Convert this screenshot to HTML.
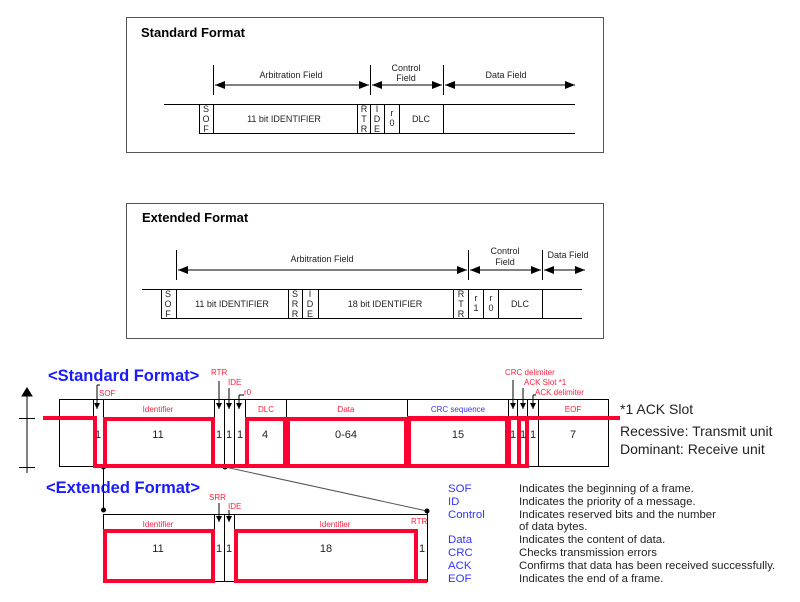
<!DOCTYPE html>
<html><head><meta charset="utf-8"><style>
body{margin:0;background:#fff;width:800px;height:602px;overflow:hidden}
svg{display:block}
text{font-family:"Liberation Sans",Arial,sans-serif}
</style></head><body>
<svg width="800" height="602" viewBox="0 0 800 602" xmlns="http://www.w3.org/2000/svg">
<defs>
<marker id="ah" markerWidth="10" markerHeight="8" refX="10" refY="4" orient="auto" markerUnits="userSpaceOnUse"><path d="M0,0 L10,4 L0,8 Z" fill="#000"/></marker>
<marker id="sa" markerWidth="6" markerHeight="6" refX="6" refY="3" orient="auto" markerUnits="userSpaceOnUse"><path d="M0,0 L6,3 L0,6 Z" fill="#000"/></marker>
</defs>
<g stroke="#555" fill="none" stroke-width="1">
<rect x="126.5" y="17.5" width="477" height="135"/>
<rect x="126.5" y="203.5" width="477" height="135"/>
</g>
<text x="141" y="37" font-size="13" font-weight="bold">Standard Format</text>
<text x="142" y="222" font-size="13" font-weight="bold">Extended Format</text>
<g stroke="#000" stroke-width="1" fill="none">
<path d="M213.5,65V95 M370.5,65V95 M443.5,65V95"/>
<line x1="215" y1="85" x2="369" y2="85" marker-end="url(#ah)"/>
<line x1="369" y1="85" x2="215" y2="85" marker-end="url(#ah)"/>
<line x1="372" y1="85" x2="442" y2="85" marker-end="url(#ah)"/>
<line x1="442" y1="85" x2="372" y2="85" marker-end="url(#ah)"/>
<line x1="445" y1="85" x2="575" y2="85" marker-end="url(#ah)"/>
<line x1="575" y1="85" x2="445" y2="85" marker-end="url(#ah)"/>
<path d="M164,104.5H575 M199,133.5H575 M199.5,104V134 M213.5,104V134 M357.5,104V134 M370.5,104V134 M384.5,104V134 M399.5,104V134 M443.5,104V134"/>
</g>
<g font-size="9" fill="#222" text-anchor="middle">
<text x="291" y="78">Arbitration Field</text>
<text x="406" y="71">Control</text><text x="406" y="81">Field</text>
<text x="506" y="78">Data Field</text>
<text x="206" y="112">S</text><text x="206" y="122">O</text><text x="206" y="132">F</text>
<text x="284" y="122">11 bit IDENTIFIER</text>
<text x="364" y="112">R</text><text x="364" y="122">T</text><text x="364" y="132">R</text>
<text x="377" y="112">I</text><text x="377" y="122">D</text><text x="377" y="132">E</text>
<text x="392" y="116">r</text><text x="392" y="126">0</text>
<text x="421" y="122">DLC</text>
</g>
<g stroke="#000" stroke-width="1" fill="none">
<path d="M176.5,250V280 M468.5,250V280 M542.5,250V280"/>
<line x1="178" y1="270" x2="467" y2="270" marker-end="url(#ah)"/>
<line x1="467" y1="270" x2="178" y2="270" marker-end="url(#ah)"/>
<line x1="470" y1="270" x2="541" y2="270" marker-end="url(#ah)"/>
<line x1="541" y1="270" x2="470" y2="270" marker-end="url(#ah)"/>
<line x1="544" y1="270" x2="585" y2="270" marker-end="url(#ah)"/>
<line x1="585" y1="270" x2="544" y2="270" marker-end="url(#ah)"/>
<path d="M142,289.5H161 M161,289.5H582 M161,318.5H582 M161.5,289V319 M176.5,289V319 M288.5,289V319 M302.5,289V319 M318.5,289V319 M453.5,289V319 M468.5,289V319 M483.5,289V319 M498.5,289V319 M542.5,289V319"/>
</g>
<g font-size="9" fill="#222" text-anchor="middle">
<text x="322" y="262">Arbitration Field</text>
<text x="505" y="254">Control</text><text x="505" y="265">Field</text>
<text x="568" y="258">Data Field</text>
<text x="168" y="297">S</text><text x="168" y="307">O</text><text x="168" y="317">F</text>
<text x="232" y="307">11 bit IDENTIFIER</text>
<text x="295" y="297">S</text><text x="295" y="307">R</text><text x="295" y="317">R</text>
<text x="310" y="297">I</text><text x="310" y="307">D</text><text x="310" y="317">E</text>
<text x="385" y="307">18 bit IDENTIFIER</text>
<text x="461" y="297">R</text><text x="461" y="307">T</text><text x="461" y="317">R</text>
<text x="476" y="301">r</text><text x="476" y="311">1</text>
<text x="491" y="301">r</text><text x="491" y="311">0</text>
<text x="520" y="307">DLC</text>
</g>
<text x="48" y="381" font-size="16.5" font-weight="bold" fill="#1a1aff">&lt;Standard Format&gt;</text>
<text x="46" y="493" font-size="16.5" font-weight="bold" fill="#1a1aff">&lt;Extended Format&gt;</text>
<g stroke="#000" stroke-width="1" fill="none">
<line x1="27" y1="473" x2="27" y2="393"/>
<path d="M22,396 L27,388 L32,396Z" fill="#000"/>
<path d="M19,418.5H35 M19,467.5H35"/>
<rect x="59.5" y="399.5" width="549" height="67"/>
<path d="M93.5,399V467 M103.5,399V467 M214.5,399V467 M224.5,399V467 M234.5,399V467 M245.5,399V467 M286.5,399V467 M407.5,399V467 M508.5,399V467 M517.5,399V467 M527.5,399V467 M538.5,399V467"/>
<line x1="97" y1="385" x2="97" y2="409" marker-end="url(#sa)"/>
<line x1="219" y1="381" x2="219" y2="409" marker-end="url(#sa)"/>
<line x1="229" y1="388" x2="229" y2="409" marker-end="url(#sa)"/>
<line x1="239" y1="395" x2="239" y2="409" marker-end="url(#sa)"/>
<line x1="513" y1="380" x2="513" y2="409" marker-end="url(#sa)"/>
<line x1="523" y1="388" x2="523" y2="409" marker-end="url(#sa)"/>
<line x1="533" y1="395" x2="533" y2="409" marker-end="url(#sa)"/>
<path d="M97,385H100 M239,395H244 M533,395H536"/>
<line x1="103.5" y1="467" x2="103.5" y2="510"/>
<line x1="225" y1="467" x2="427" y2="511" stroke="#555"/>
<path d="M103,514.5H427 M103.5,514V582 M214.5,514V582 M224.5,514V582 M234.5,514V582 M427.5,511V582 M214,581.5H236"/>
<line x1="219" y1="503" x2="219" y2="522" marker-end="url(#sa)"/>
<line x1="229" y1="510" x2="229" y2="522" marker-end="url(#sa)"/>
</g>
<g fill="#000"><circle cx="103.5" cy="467" r="2.5"/><circle cx="225" cy="467" r="2.5"/><circle cx="103.5" cy="510" r="2.5"/><circle cx="427" cy="511" r="2.5"/></g>
<g stroke="#ff0033" stroke-width="4" fill="none">
<path d="M43,418H95V466H528"/>
<rect x="105" y="419" width="108" height="47"/>
<rect x="247" y="419" width="38" height="47"/>
<rect x="288" y="419" width="118" height="47"/>
<rect x="409" y="419" width="98" height="47"/>
<path d="M407,418H620 M509,418V466"/>
<rect x="519" y="419" width="8" height="47"/>
<rect x="105" y="531" width="108" height="50"/>
<rect x="236" y="531" width="180" height="50"/>
<path d="M236,581H427"/>
</g>
<g font-size="11" fill="#222" text-anchor="middle">
<text x="98" y="438">1</text><text x="158" y="438">11</text>
<text x="219" y="438">1</text><text x="229" y="438">1</text><text x="240" y="438">1</text>
<text x="265" y="438">4</text><text x="346" y="438">0-64</text><text x="458" y="438">15</text>
<text x="513" y="438">1</text><text x="523" y="438">1</text><text x="533" y="438">1</text><text x="573" y="438">7</text>
<text x="158" y="552">11</text><text x="219" y="552">1</text><text x="229" y="552">1</text>
<text x="326" y="552">18</text><text x="422" y="552">1</text>
</g>
<g font-size="8" fill="#ff2040">
<text x="99" y="396">SOF</text><text x="211" y="375">RTR</text><text x="228" y="385">IDE</text><text x="244" y="395">r0</text>
<text x="505" y="375">CRC delimiter</text><text x="524" y="385">ACK Slot *1</text><text x="535" y="395">ACK delimiter</text>
<text x="209" y="500">SRR</text><text x="228" y="509">IDE</text><text x="411" y="524">RTR</text>
</g>
<g font-size="8" fill="#ff2040" text-anchor="middle">
<text x="158" y="412">Identifier</text><text x="266" y="412">DLC</text><text x="346" y="412">Data</text>
<text x="458" y="412" fill="#3333ff">CRC sequence</text><text x="573" y="412">EOF</text>
<text x="158" y="527">Identifier</text><text x="335" y="527">Identifier</text>
</g>
<g font-size="14" fill="#222">
<text x="620" y="414">*1 ACK Slot</text>
<text x="620" y="436">Recessive: Transmit unit</text>
<text x="620" y="454">Dominant: Receive unit</text>
</g>
<g font-size="11.4" fill="#3333ff">
<text x="448" y="492">SOF</text><text x="448" y="505">ID</text><text x="448" y="518">Control</text>
<text x="448" y="543">Data</text><text x="448" y="556">CRC</text><text x="448" y="569">ACK</text><text x="448" y="582">EOF</text>
</g>
<g font-size="11.4" fill="#222">
<text x="519" y="492">Indicates the beginning of a frame.</text>
<text x="519" y="505">Indicates the priority of a message.</text>
<text x="519" y="518">Indicates reserved bits and the number</text>
<text x="519" y="530">of data bytes.</text>
<text x="519" y="543">Indicates the content of data.</text>
<text x="519" y="556">Checks transmission errors</text>
<text x="519" y="569">Confirms that data has been received successfully.</text>
<text x="519" y="582">Indicates the end of a frame.</text>
</g>
</svg>
</body></html>
